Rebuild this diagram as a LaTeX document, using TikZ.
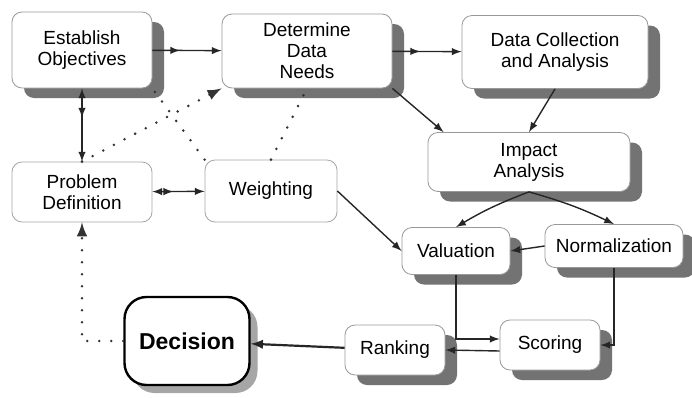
\documentclass[tikz,border=0pt]{standalone}
\usepackage{fontspec}
\setmainfont{Liberation Sans}
\usetikzlibrary{positioning,shapes,shadows,arrows,decorations.markings}

\begin{document}
\begin{tikzpicture}[x=0.5pt,y=0.5pt]
\tikzstyle{every node}+=[font=\fontsize{9.5}{10.5}\selectfont, align=center, inner sep=2pt]
\tikzstyle{box}=[draw=black!40, fill=white, rounded corners=5pt, drop shadow={shadow xshift=6pt, shadow yshift=-5pt, fill=black!55, opacity=1}]
\tikzstyle{flatbox}=[draw=black!35, fill=white, rounded corners=5pt]
\tikzstyle{decbox}=[draw=black, line width=1.2pt, fill=white, rounded corners=11pt, font=\fontsize{11.5}{13}\selectfont\bfseries, drop shadow={shadow xshift=4pt, shadow yshift=-4pt, fill=black!35, opacity=1}]
\tikzstyle{flow}=[->, >=latex, black!85, line width=0.7pt]
\tikzstyle{midarrow}=[postaction={decorate}, decoration={markings, mark=at position 0.4 with {\arrow{latex}}}]
\tikzstyle{dots}=[black!80, line width=1.4pt, line cap=round, dash pattern=on 0pt off 6pt, >=latex]
\useasboundingbox (0,0) rectangle (692,-397);
% boxes
\node[box, minimum width=70pt, minimum height=38pt] (est) at (82,-50) {Establish\\Objectives};
\node[box, minimum width=85pt, minimum height=37pt] (det) at (307,-51) {Determine\\Data\\Needs};
\node[box, minimum width=93pt, minimum height=36.5pt] (dca) at (555,-52) {Data Collection\\and Analysis};
\node[box, minimum width=101pt, minimum height=29.5pt] (imp) at (529,-162) {Impact\\Analysis};
\node[flatbox, minimum width=70pt, minimum height=30pt] (prob) at (82,-192) {Problem\\Definition};
\node[flatbox, minimum width=66pt, minimum height=31pt] (wgt) at (271,-191) {Weighting};
\node[box, minimum width=54pt, minimum height=23.5pt] (val) at (456,-251) {Valuation};
\node[box, minimum width=69pt, minimum height=21.5pt] (nrm) at (614,-246) {Normalization};
\node[decbox, minimum width=62.5pt, minimum height=44pt] (dec) at (187,-341) {Decision};
\node[box, minimum width=50pt, minimum height=25pt] (rnk) at (395,-350) {Ranking};
\node[box, minimum width=50pt, minimum height=25pt] (scr) at (550,-345) {Scoring};
% connectors
\draw[flow, midarrow] (est) -- (det);
\draw[flow, midarrow] (det) -- (dca);
\draw[flow] (det.south east) -- ([xshift=8pt]imp.north west);
\draw[flow] (dca.south) -- (imp.north);
\draw[flow] (imp.south) to[bend right=5] (val.north);
\draw[flow] (imp.south) to[bend left=5] (nrm.north);
\draw[flow] (nrm.west) -- (val.east);
\draw[flow] (wgt.east) -- (val.west);
\draw[flow] (val.south) |- ([yshift=3pt]scr.west);
\draw[flow] (nrm.south) |- (scr.east);
\draw[flow] ([yshift=-3pt]scr.west) -- (rnk.east);
\draw[flow, line width=1.1pt] (rnk) -- (dec);
\draw[flow, <->, midarrow] (est) -- (prob);
\draw[flow, <->, midarrow] (prob) -- (wgt);
\draw[dots, ->] (dec.west) -| (prob.south);
\draw[dots, ->] (prob.north) -- (det.south west);
\draw[dots] (wgt.north west) -- (est.south east);
\draw[dots] (wgt.north) -- (det.south);
\end{tikzpicture}
\end{document}
